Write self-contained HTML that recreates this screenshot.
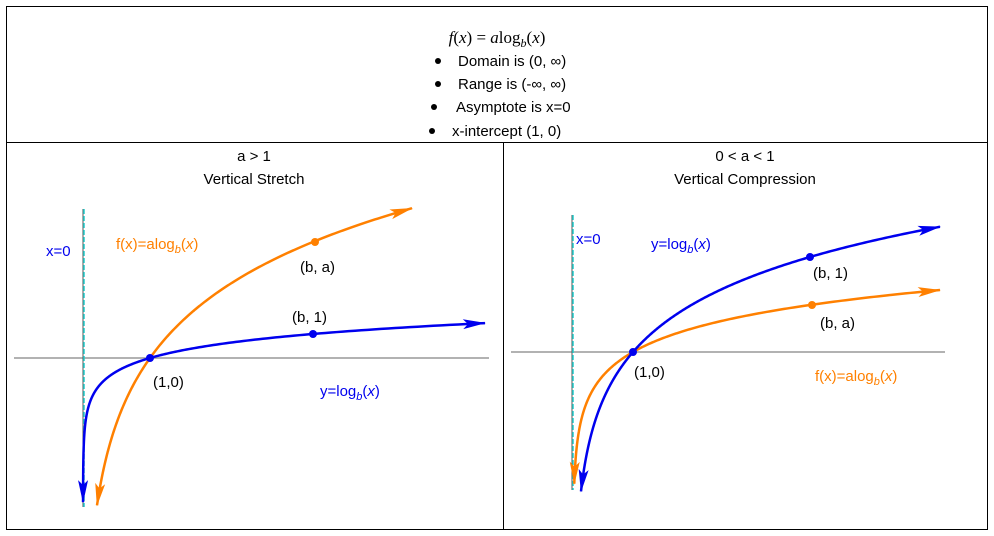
<!DOCTYPE html>
<html><head><meta charset="utf-8"><style>
body{margin:0;background:#fff;width:994px;height:536px;overflow:hidden;font-family:"Liberation Sans",sans-serif}
svg{position:absolute;left:0;top:0}
</style></head><body>
<svg width="994" height="536" xmlns="http://www.w3.org/2000/svg" font-family="Liberation Sans, sans-serif">
<defs>
<marker id="ab" viewBox="0 0 10 10" refX="9" refY="5" markerWidth="10" markerHeight="10" markerUnits="userSpaceOnUse" orient="auto" style="overflow:visible"><path d="M-13,0 L10,5 L-13,10 L-8,5 Z" fill="#0000ee"/></marker>
<marker id="ao" viewBox="0 0 10 10" refX="9" refY="5" markerWidth="10" markerHeight="10" markerUnits="userSpaceOnUse" orient="auto" style="overflow:visible"><path d="M-13,0 L10,5 L-13,10 L-8,5 Z" fill="#ff8000"/></marker>
</defs>
<rect x="6.5" y="6.5" width="981" height="523" fill="none" stroke="#000" stroke-width="1"/>
<line x1="6" y1="142.5" x2="988" y2="142.5" stroke="#000"/>
<line x1="503.5" y1="142" x2="503.5" y2="530" stroke="#000"/>
<text x="497" y="43" text-anchor="middle" font-family="Liberation Serif, serif" font-size="17"><tspan font-style="italic">f</tspan>(<tspan font-style="italic">x</tspan>) = <tspan font-style="italic">a</tspan>log<tspan font-size="12" dy="4" font-style="italic">b</tspan><tspan dy="-4">(</tspan><tspan font-style="italic">x</tspan>)</text>
<g font-size="15" fill="#000">
<circle cx="438" cy="61" r="3"/><text x="458" y="66">Domain is (0, ∞)</text>
<circle cx="438" cy="84" r="3"/><text x="458" y="89">Range is (-∞, ∞)</text>
<circle cx="434" cy="107" r="3"/><text x="456" y="112">Asymptote is x=0</text>
<circle cx="432" cy="131" r="3"/><text x="452" y="136">x-intercept (1, 0)</text>
<text x="254" y="161" text-anchor="middle">a &gt; 1</text>
<text x="254" y="184" text-anchor="middle">Vertical Stretch</text>
<text x="745" y="161" text-anchor="middle">0 &lt; a &lt; 1</text>
<text x="745" y="184" text-anchor="middle">Vertical Compression</text>
</g>
<line x1="14" y1="358" x2="489" y2="358" stroke="#999" stroke-width="1.5"/>
<line x1="83" y1="209" x2="83" y2="507" stroke="#555" stroke-width="1"/>
<line x1="84" y1="209" x2="84" y2="507" stroke="#2cc" stroke-width="1.5" stroke-dasharray="5,2"/>
<line x1="511" y1="352" x2="945" y2="352" stroke="#999" stroke-width="1.5"/>
<line x1="572" y1="215" x2="572" y2="490" stroke="#555" stroke-width="1"/>
<line x1="573" y1="215" x2="573" y2="490" stroke="#2cc" stroke-width="1.5" stroke-dasharray="5,2"/>
<g id="curves"></g>
<g font-size="15">
<text x="46" y="256" fill="#0000ee">x=0</text>
<text x="116" y="249" fill="#ff8000">f(x)=alog<tspan font-size="11" dy="4" font-style="italic">b</tspan><tspan dy="-4">(</tspan><tspan font-style="italic">x</tspan>)</text>
<text x="300" y="272">(b, a)</text>
<text x="292" y="322">(b, 1)</text>
<text x="153" y="387">(1,0)</text>
<text x="320" y="396" fill="#0000ee">y=log<tspan font-size="11" dy="4" font-style="italic">b</tspan><tspan dy="-4">(</tspan><tspan font-style="italic">x</tspan>)</text>
<text x="576" y="244" fill="#0000ee">x=0</text>
<text x="651" y="249" fill="#0000ee">y=log<tspan font-size="11" dy="4" font-style="italic">b</tspan><tspan dy="-4">(</tspan><tspan font-style="italic">x</tspan>)</text>
<text x="813" y="278">(b, 1)</text>
<text x="820" y="328">(b, a)</text>
<text x="634" y="377">(1,0)</text>
<text x="815" y="381" fill="#ff8000">f(x)=alog<tspan font-size="11" dy="4" font-style="italic">b</tspan><tspan dy="-4">(</tspan><tspan font-style="italic">x</tspan>)</text>
</g>
</svg>
<script>
function curve(ox,sx,oy,k,lnb,xs,xe,col,mk){
  var n=400,pts=[];
  var u0=(xs-ox)/sx,u1=(xe-ox)/sx;
  for(var i=0;i<=n;i++){
    var t=i/n;var u=Math.exp(Math.log(u0)+(Math.log(u1)-Math.log(u0))*t);
    pts.push([ox+u*sx, oy-k*Math.log(u)/lnb]);
  }
  var d="M"+pts.map(function(p){return p[0].toFixed(2)+","+p[1].toFixed(2)}).join(" L");
  var p=document.createElementNS("http://www.w3.org/2000/svg","path");
  p.setAttribute("d",d);p.setAttribute("fill","none");p.setAttribute("stroke",col);p.setAttribute("stroke-width","2.5");
  p.setAttribute("marker-start","url(#"+mk+"s)");p.setAttribute("marker-end","url(#"+mk+")");
  document.getElementById("curves").appendChild(p);
}
var defs=document.querySelector("defs");
["ab","ao"].forEach(function(id){var m=document.getElementById(id).cloneNode(true);m.id=id+"s";m.setAttribute("orient","auto-start-reverse");defs.appendChild(m);});
var L=Math.log(3.43);
curve(83,67,358,24,L,83+67*Math.exp(-7.4),485,"#0000ee","ab");
curve(83,67,358,116,L,97,412,"#ff8000","ao");
var R=Math.log(3.95);
curve(573,60,352,47,R,573+60*Math.exp(-3.85),940,"#ff8000","ao");
curve(573,60,352,95,R,581,940,"#0000ee","ab");
var g=document.getElementById("curves");
[[150,358,"#0000ee",4],[313,334,"#0000ee",4],[315,242,"#ff8000",4],[633,352,"#0000ee",4],[810,257,"#0000ee",4],[812,305,"#ff8000",4]].forEach(function(c){
  var e=document.createElementNS("http://www.w3.org/2000/svg","circle");e.setAttribute("cx",c[0]);e.setAttribute("cy",c[1]);e.setAttribute("r",c[3]);e.setAttribute("fill",c[2]);g.appendChild(e);});
</script>
</body></html>
